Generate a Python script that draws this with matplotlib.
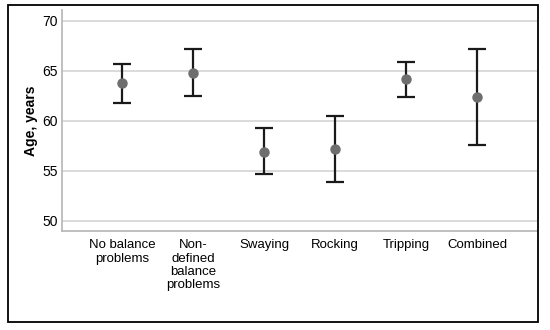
import matplotlib
matplotlib.use("Agg")
import matplotlib.pyplot as plt
from matplotlib.patches import Rectangle

plt.rcParams['font.family'] = ['Liberation Sans', 'DejaVu Sans']

# group labels and age statistics (mean with 95% CI)
groups = ["No balance\nproblems", "Non-\ndefined\nbalance\nproblems", "Swaying",
          "Rocking", "Tripping", "Combined"]
mean_age = [63.77, 64.83, 56.93, 57.2, 64.17, 62.4]
ci_upper = [65.73, 67.17, 59.27, 60.5, 65.9, 67.23]
ci_lower = [61.83, 62.47, 54.67, 53.87, 62.4, 57.57]
y_ticks = [50, 55, 60, 65, 70]

fig = plt.figure(figsize=(5.5, 3.3), dpi=100)
ax = fig.add_axes([0.1127, 0.3, 0.8637, 0.6697])

x = list(range(len(groups)))
err_low = [m - l for m, l in zip(mean_age, ci_lower)]
err_high = [u - m for m, u in zip(mean_age, ci_upper)]
ax.errorbar(x, mean_age, yerr=[err_low, err_high], fmt='none', ecolor='#1a1a1a',
            elinewidth=1.6, capsize=6.5, capthick=1.6, zorder=3)
ax.plot(x, mean_age, 'o', color='#6e6e6e', markersize=6.5, zorder=4)

ax.set_xlim(-0.845, 5.845)
ax.set_ylim(49, 71.1)
ax.set_yticks(y_ticks)
ax.set_xticks(x)
ax.set_xticklabels(groups, fontsize=9.5, linespacing=1.15)
ax.tick_params(axis='y', labelsize=10, length=0, pad=3)
ax.tick_params(axis='x', length=0, pad=6)
ax.yaxis.grid(True, color='#d4d4d4', linewidth=1.2)
ax.set_axisbelow(True)
ax.set_ylabel("Age, years", fontsize=10, fontweight='bold', labelpad=3)

for side in ['top', 'right']:
    ax.spines[side].set_visible(False)
for side in ['left', 'bottom']:
    ax.spines[side].set_color('#b5b5b5')
    ax.spines[side].set_linewidth(1.2)

# outer frame around the whole chart
fig.patches.append(Rectangle((8 / 550, 1 - 322 / 330), 530 / 550, 317 / 330,
                             transform=fig.transFigure, fill=False,
                             edgecolor='black', linewidth=1.3))

fig.savefig("out.png", dpi=100)
